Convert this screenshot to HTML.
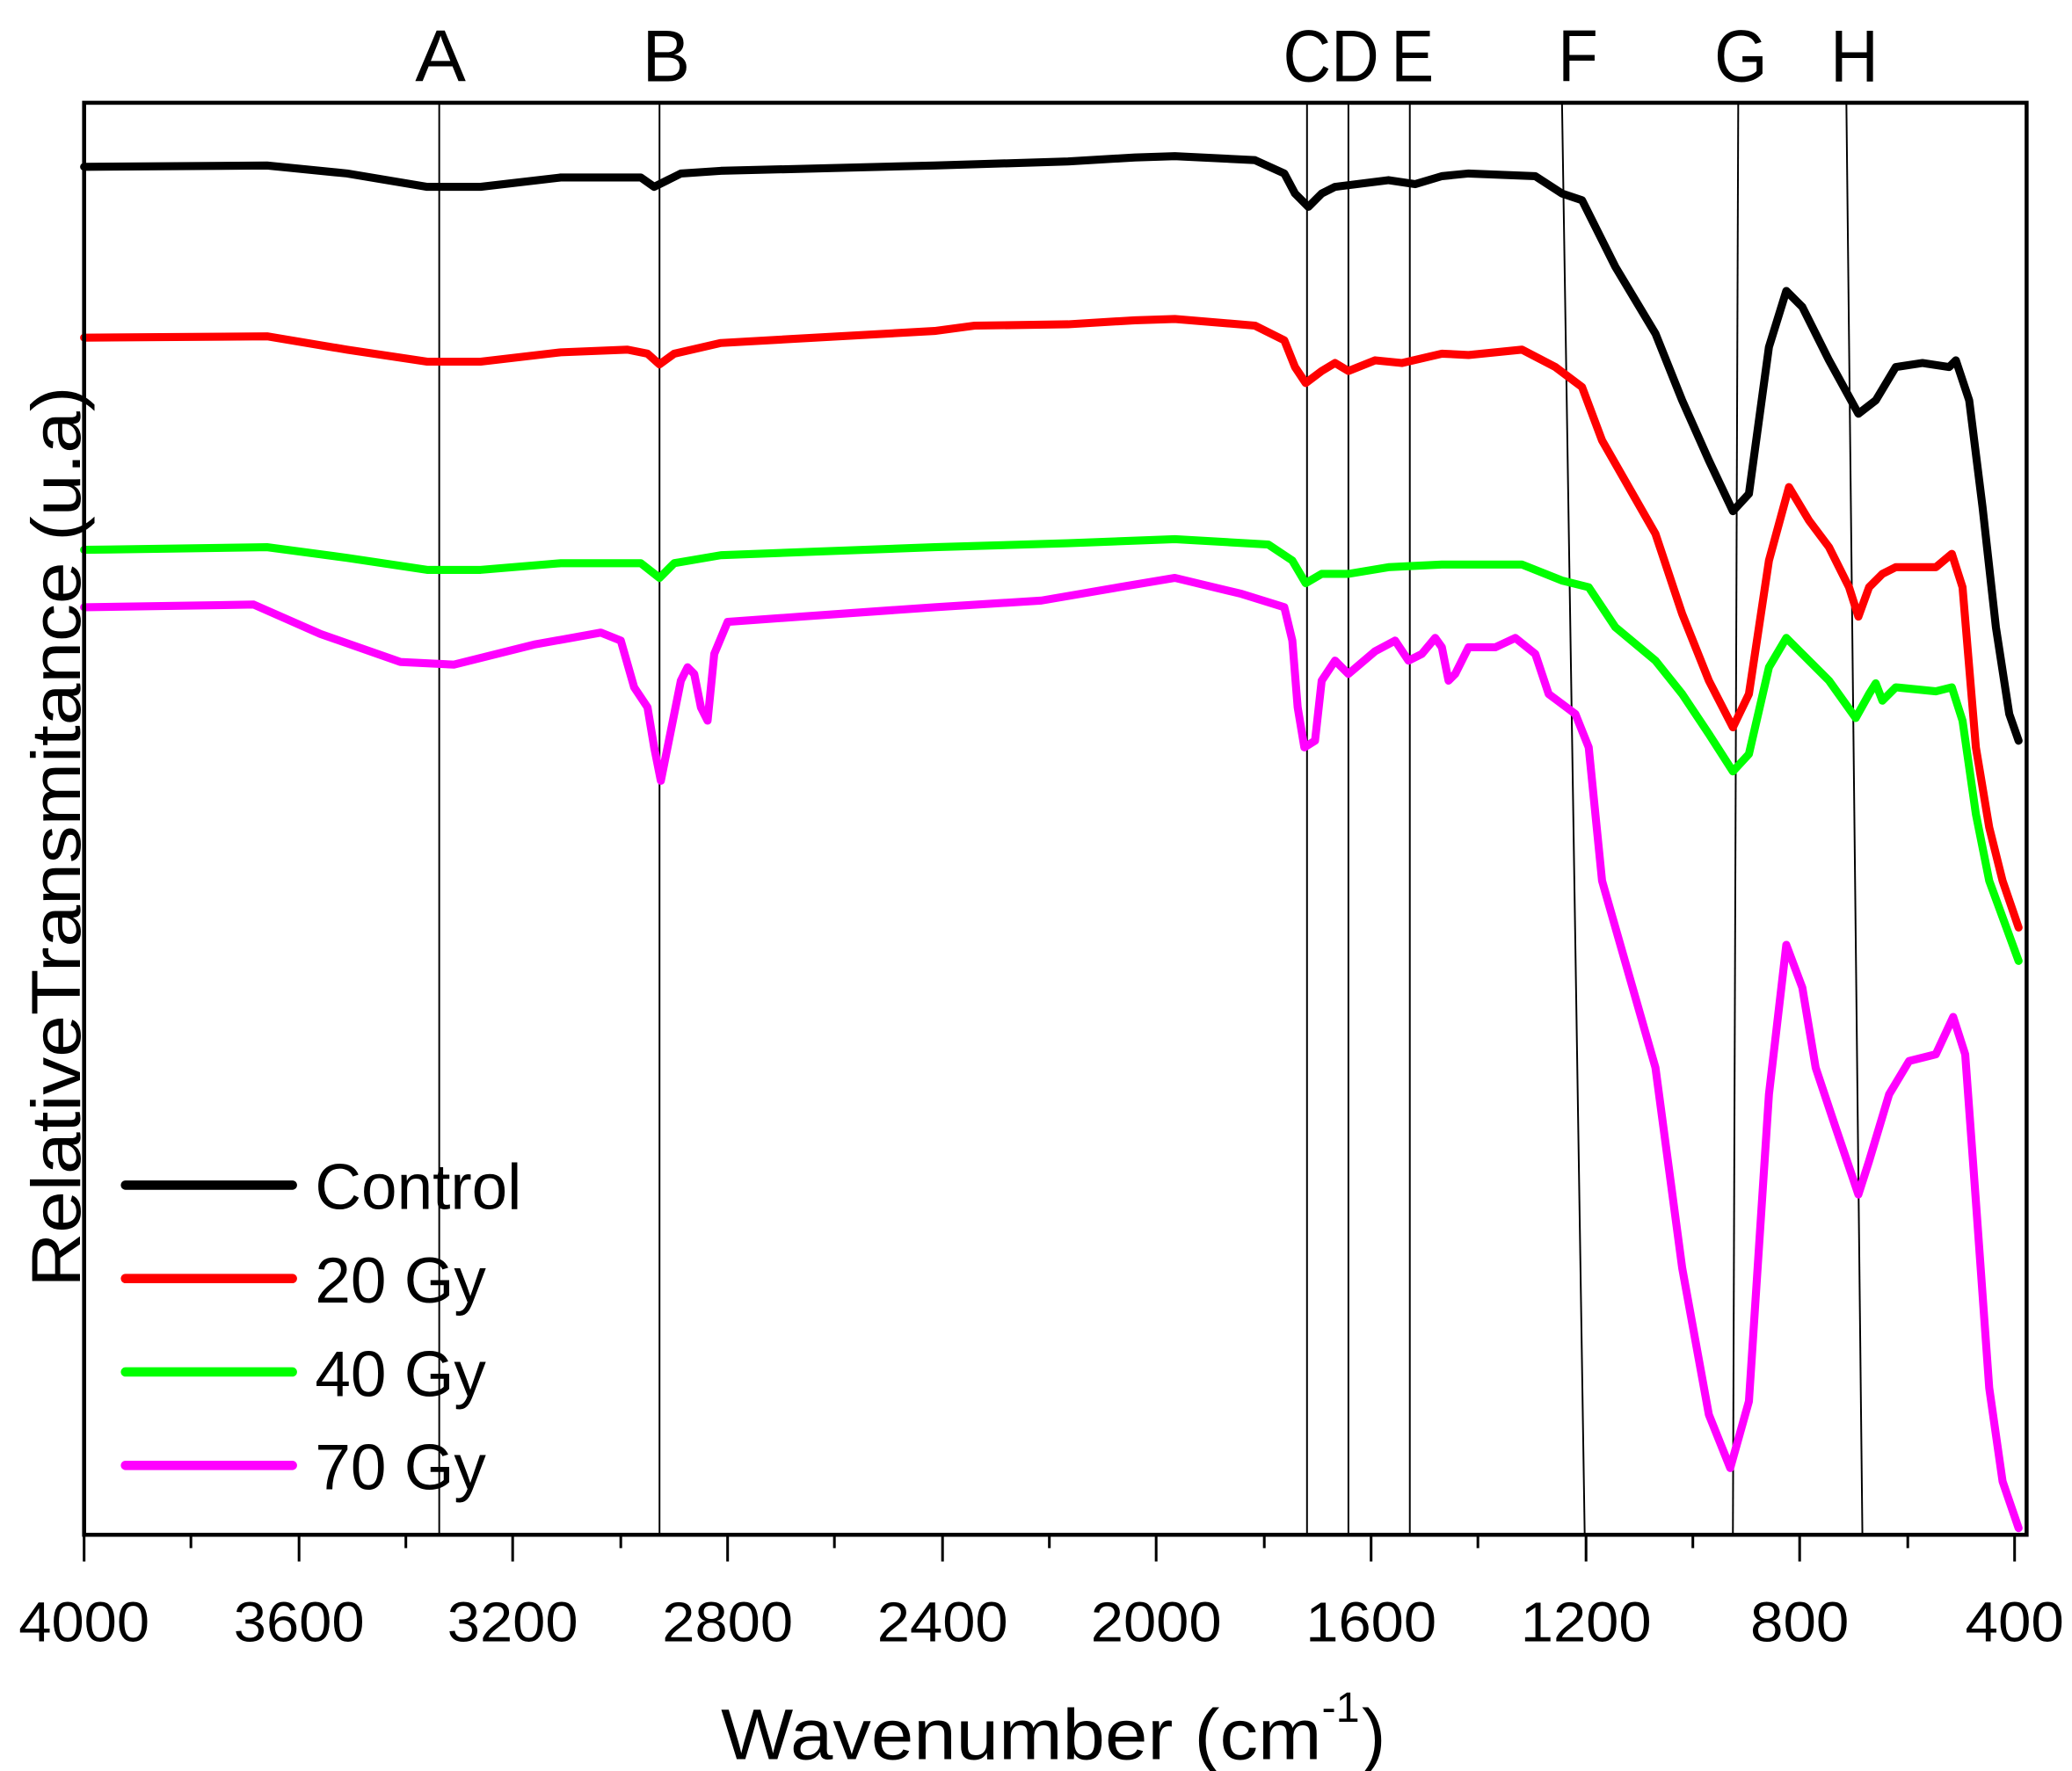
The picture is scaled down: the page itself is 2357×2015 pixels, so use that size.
<!DOCTYPE html>
<html><head><meta charset="utf-8"><style>
html,body{margin:0;padding:0;background:#fff;}
svg{display:block;}
text{font-family:"Liberation Sans",sans-serif;fill:#000;}
</style></head><body>
<svg width="2357" height="2015" viewBox="0 0 1552 1327" preserveAspectRatio="none" xmlns="http://www.w3.org/2000/svg">
<rect x="0" y="0" width="1552" height="1327" fill="#fff"/>
<g stroke="#000" stroke-width="1.3" fill="none">
<line x1="329" y1="77" x2="329" y2="1150"/>
<line x1="494" y1="77" x2="494" y2="1150"/>
<line x1="979" y1="77" x2="979" y2="1150"/>
<line x1="1010" y1="77" x2="1010" y2="1150"/>
<line x1="1056" y1="77" x2="1056" y2="1150"/>
<line x1="1170" y1="77" x2="1187" y2="1150"/>
<line x1="1302" y1="77" x2="1298" y2="1150"/>
<line x1="1383" y1="77" x2="1395" y2="1150"/>
</g>
<g fill="none" stroke-width="6" stroke-linejoin="round" stroke-linecap="round">
<polyline stroke="#000" points="63,125 200,124 260,130 320,140 360,140 420,133 480,133 490,140 500,135 510,130 540,128 700,124 800,121 850,118 880,117 940,120 962,130 970,145 980,155 990,145 1000,140 1040,135 1060,138 1080,132 1100,130 1150,132 1170,145 1185,150 1195,170 1210,200 1240,250 1260,300 1280,345 1298,383 1310,370 1325,260 1338,218 1350,230 1370,270 1392,310 1405,300 1420,275 1440,272 1460,275 1465,270 1475,300 1485,380 1495,470 1505,535 1512,555"/>
<polyline stroke="#ff0000" points="63,253 200,252 260,262 320,271 360,271 420,264 470,262 485,265 494,273 505,265 540,257 700,248 730,244 800,243 850,240 880,239 940,244 962,255 970,275 978,287 990,278 1000,272 1010,278 1030,270 1050,272 1080,265 1100,266 1140,262 1165,275 1185,290 1200,330 1240,400 1260,460 1280,510 1298,545 1310,520 1325,420 1340,365 1355,390 1370,410 1385,440 1392,462 1400,440 1410,430 1420,425 1450,425 1462,415 1470,440 1480,560 1490,620 1500,660 1512,695"/>
<polyline stroke="#00ff00" points="63,412 200,410 260,418 320,427 360,427 420,422 480,422 494,433 505,422 540,416 700,410 800,407 880,404 950,408 968,420 978,437 990,430 1010,430 1040,425 1080,423 1140,423 1170,435 1190,440 1210,470 1240,495 1260,520 1280,550 1298,578 1310,565 1325,500 1338,478 1350,490 1370,510 1390,538 1400,520 1405,512 1410,525 1420,515 1450,518 1462,515 1470,540 1480,610 1490,660 1512,720"/>
<polyline stroke="#ff00ff" points="63,455 190,453 240,475 300,496 340,498 400,483 450,474 465,480 475,515 485,530 490,560 495,585 500,560 510,510 515,500 520,505 525,530 530,540 535,490 545,466 600,462 700,455 780,450 850,438 880,433 930,445 962,455 968,480 972,530 977,560 985,555 990,510 1000,495 1010,505 1030,488 1045,480 1055,495 1065,490 1075,478 1080,485 1085,510 1090,505 1100,485 1110,485 1120,485 1135,478 1150,490 1160,520 1180,535 1190,560 1200,660 1220,730 1240,800 1260,950 1280,1060 1296,1100 1310,1050 1325,820 1338,708 1350,740 1360,800 1375,845 1392,895 1400,870 1415,820 1430,795 1450,790 1463,762 1472,790 1480,900 1490,1040 1500,1110 1512,1145"/>
</g>
<rect x="63" y="77" width="1455" height="1073" fill="none" stroke="#000" stroke-width="3"/>
<g stroke="#000" stroke-width="2">
<line x1="63" y1="1150" x2="63" y2="1170"/><line x1="143" y1="1150" x2="143" y2="1160"/>
<line x1="224" y1="1150" x2="224" y2="1170"/><line x1="304" y1="1150" x2="304" y2="1160"/>
<line x1="384" y1="1150" x2="384" y2="1170"/><line x1="465" y1="1150" x2="465" y2="1160"/>
<line x1="545" y1="1150" x2="545" y2="1170"/><line x1="625" y1="1150" x2="625" y2="1160"/>
<line x1="706" y1="1150" x2="706" y2="1170"/><line x1="786" y1="1150" x2="786" y2="1160"/>
<line x1="866" y1="1150" x2="866" y2="1170"/><line x1="947" y1="1150" x2="947" y2="1160"/>
<line x1="1027" y1="1150" x2="1027" y2="1170"/><line x1="1107" y1="1150" x2="1107" y2="1160"/>
<line x1="1188" y1="1150" x2="1188" y2="1170"/><line x1="1268" y1="1150" x2="1268" y2="1160"/>
<line x1="1348" y1="1150" x2="1348" y2="1170"/><line x1="1429" y1="1150" x2="1429" y2="1160"/>
<line x1="1509" y1="1150" x2="1509" y2="1170"/>
</g>
<g font-size="42" text-anchor="middle">
<text x="63" y="1230" textLength="98" lengthAdjust="spacingAndGlyphs">4000</text>
<text x="224" y="1230" textLength="98" lengthAdjust="spacingAndGlyphs">3600</text>
<text x="384" y="1230" textLength="98" lengthAdjust="spacingAndGlyphs">3200</text>
<text x="545" y="1230" textLength="98" lengthAdjust="spacingAndGlyphs">2800</text>
<text x="706" y="1230" textLength="98" lengthAdjust="spacingAndGlyphs">2400</text>
<text x="866" y="1230" textLength="98" lengthAdjust="spacingAndGlyphs">2000</text>
<text x="1027" y="1230" textLength="98" lengthAdjust="spacingAndGlyphs">1600</text>
<text x="1188" y="1230" textLength="98" lengthAdjust="spacingAndGlyphs">1200</text>
<text x="1348" y="1230" textLength="74" lengthAdjust="spacingAndGlyphs">800</text>
<text x="1509" y="1230" textLength="74" lengthAdjust="spacingAndGlyphs">400</text>
</g>
<text x="540" y="1318" font-size="54" textLength="450" lengthAdjust="spacingAndGlyphs">Wavenumber (cm</text>
<text x="990" y="1290" font-size="32">-1</text>
<text x="1020" y="1318" font-size="54">)</text>
<text transform="translate(60,627) rotate(-90)" font-size="52" text-anchor="middle" textLength="675" lengthAdjust="spacingAndGlyphs">RelativeTransmitance (u.a)</text>
<g font-size="55" text-anchor="middle">
<text x="330" y="61" textLength="38" lengthAdjust="spacingAndGlyphs">A</text>
<text x="499" y="61" textLength="36" lengthAdjust="spacingAndGlyphs">B</text>
<text x="997" y="61" textLength="72" lengthAdjust="spacingAndGlyphs">CD</text>
<text x="1058" y="61" textLength="32" lengthAdjust="spacingAndGlyphs">E</text>
<text x="1182" y="61" textLength="30" lengthAdjust="spacingAndGlyphs">F</text>
<text x="1304" y="61" textLength="40" lengthAdjust="spacingAndGlyphs">G</text>
<text x="1389" y="61" textLength="36" lengthAdjust="spacingAndGlyphs">H</text>
</g>
<g stroke-width="7" stroke-linecap="round">
<line x1="94" y1="888" x2="219" y2="888" stroke="#000"/>
<line x1="94" y1="958" x2="219" y2="958" stroke="#ff0000"/>
<line x1="94" y1="1028" x2="219" y2="1028" stroke="#00ff00"/>
<line x1="94" y1="1098" x2="219" y2="1098" stroke="#ff00ff"/>
</g>
<g font-size="48">
<text x="236" y="906">Control</text>
<text x="236" y="976">20 Gy</text>
<text x="236" y="1046">40 Gy</text>
<text x="236" y="1116">70 Gy</text>
</g>
</svg>
</body></html>
